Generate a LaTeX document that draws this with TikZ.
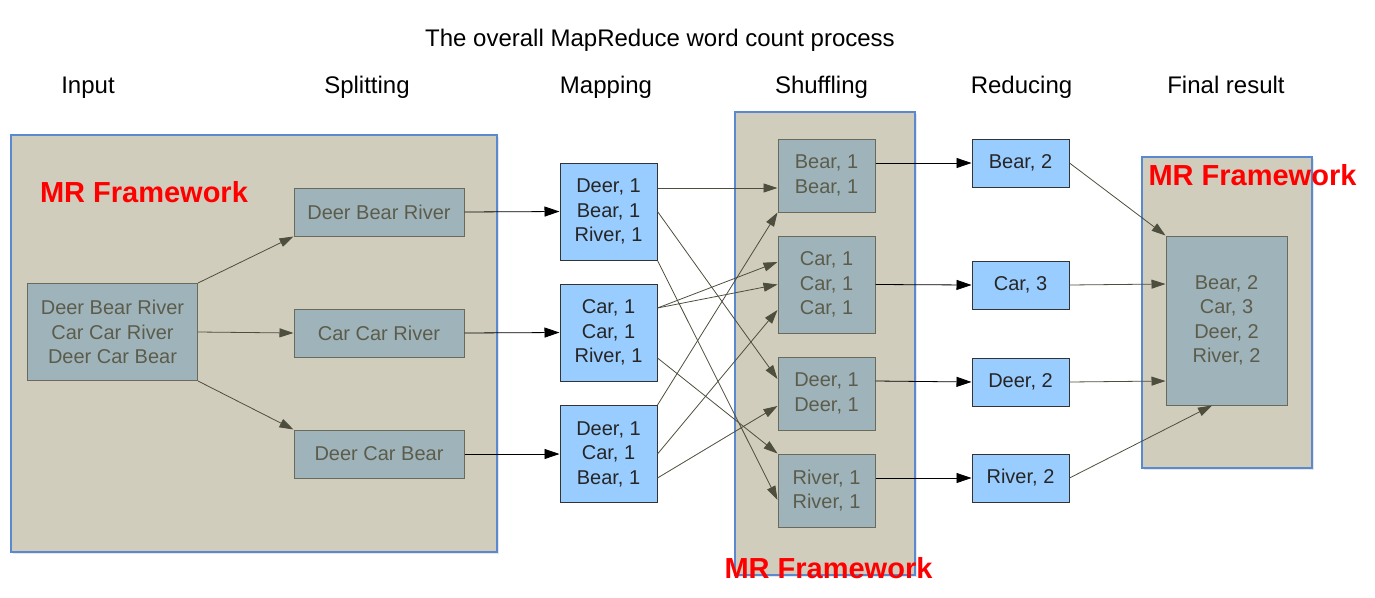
\documentclass[tikz,border=0pt]{standalone}
\usepackage{fontspec}
\setmainfont{Liberation Sans}
\usetikzlibrary{calc,positioning,arrows.meta,shadows}
\definecolor{framefill}{HTML}{D1CDBC}
\definecolor{frameline}{HTML}{5A89CF}
\definecolor{nodegray}{HTML}{9FB4BA}
\definecolor{nodeline}{HTML}{6A6A5A}
\definecolor{nodetext}{HTML}{5C5C4C}
\definecolor{nodeblue}{HTML}{99CCFF}
\definecolor{arrgray}{HTML}{4E4E3E}
\begin{document}
\begin{tikzpicture}[x=1pt,y=-1pt,
 frm/.style={draw=frameline,fill=framefill,line width=1.2pt,drop shadow={opacity=0.2,shadow xshift=1.5pt,shadow yshift=-2pt}},
 gbox/.style={draw=nodeline,fill=nodegray,text=nodetext,line width=1pt,inner sep=0pt,align=center,minimum width=97pt,font=\fontsize{20}{24.5}\selectfont},
 bbox/.style={draw=black!80,fill=nodeblue,text=black!85,line width=1pt,inner sep=0pt,align=center,minimum width=97pt,font=\fontsize{20}{24.5}\selectfont},
 garr/.style={draw=arrgray,line width=0.8pt,-{Triangle[length=14pt,width=9pt]}},
 barr/.style={draw=black,line width=0.8pt,-{Triangle[length=15pt,width=10pt]}},
 mrlabel/.style={text=red,font=\bfseries\fontsize{29}{29}\selectfont},
 head/.style={anchor=base,font=\fontsize{24}{24}\selectfont}]
\useasboundingbox (0,0) rectangle (1375,597);
% frames
\draw[frm] (11,135) rectangle (497,552);
\draw[frm] (735,112) rectangle (915,575);
\draw[frm] (1142,157) rectangle (1312,468);
% titles
\node[head] (title) at (660,46) {The overall MapReduce word count process};
\node[head] (hin) at (88,93) {Input};
\node[head] (hsp) at (367,93) {Splitting};
\node[head] (hmap) at (606,93) {Mapping};
\node[head] (hsh) at (821.5,93) {Shuffling};
\node[head] (hred) at (1021.5,93) {Reducing};
\node[head] (hfin) at (1226,93) {Final result};
% input and splitting
\node[gbox,minimum width=170pt,minimum height=97pt] (in) at (112.5,332) {Deer Bear River\\Car Car River\\Deer Car Bear};
\node[gbox,minimum width=170pt,minimum height=48pt] (s1) at (379,212) {Deer Bear River};
\node[gbox,minimum width=170pt,minimum height=48pt] (s2) at (379,333) {Car Car River};
\node[gbox,minimum width=170pt,minimum height=48pt] (s3) at (379,454) {Deer Car Bear};
% mapping
\node[bbox,minimum height=97pt] (m1) at (608.5,211.5) {Deer, 1\\Bear, 1\\River, 1};
\node[bbox,minimum height=97pt] (m2) at (608.5,332.5) {Car, 1\\Car, 1\\River, 1};
\node[bbox,minimum height=97pt] (m3) at (608.5,454) {Deer, 1\\Car, 1\\Bear, 1};
% shuffling
\node[gbox,minimum height=73pt] (h1) at (826.5,175.5) {Bear, 1\\Bear, 1};
\node[gbox,minimum height=97pt] (h2) at (826.5,284.5) {Car, 1\\Car, 1\\Car, 1};
\node[gbox,minimum height=73pt] (h3) at (826.5,393.5) {Deer, 1\\Deer, 1};
\node[gbox,minimum height=73pt] (h4) at (826.5,490.5) {River, 1\\River, 1};
% reducing
\node[bbox,minimum height=48pt] (r1) at (1020.5,163) {Bear, 2};
\node[bbox,minimum height=48pt] (r2) at (1020.5,285) {Car, 3};
\node[bbox,minimum height=48pt] (r3) at (1020.5,382) {Deer, 2};
\node[bbox,minimum height=48pt] (r4) at (1020.5,478) {River, 2};
% final result
\node[gbox,minimum width=121pt,minimum height=169pt] (fin) at (1226.5,320.5) {Bear, 2\\Car, 3\\Deer, 2\\River, 2};
% connectors
\draw[garr] (in.north east)--(s1.south west);
\draw[garr] (in.east)--(s2.west);
\draw[garr] (in.south east)--(s3.north west);
\draw[barr] (s1.east)--(m1.west);
\draw[barr] (s2.east)--(m2.west);
\draw[barr] (s3.east)--(m3.west);
\draw[garr] ([yshift=23.5pt]m1.east)--([yshift=-12.5pt]h1.west);
\draw[garr] (m1.east)--([yshift=14.5pt]h3.west);
\draw[garr] (m1.south east)--([yshift=-9.5pt]h4.west);
\draw[garr] ([yshift=24.5pt]m2.east)--([yshift=22.5pt]h2.west);
\draw[garr] ([yshift=24.5pt]m2.east)--(h2.west);
\draw[garr] ([yshift=-25.5pt]m2.east)--(h4.north west);
\draw[garr] (m3.north east)--(h1.south west);
\draw[garr] (m3.east)--([yshift=-25.5pt]h2.west);
\draw[garr] ([yshift=-24pt]m3.east)--([yshift=-12.5pt]h3.west);
\draw[barr] ([yshift=12.5pt]h1.east)--(r1.west);
\draw[barr] (h2.east)--(r2.west);
\draw[barr] ([yshift=12.5pt]h3.east)--(r3.west);
\draw[barr] ([yshift=12.5pt]h4.east)--(r4.west);
\draw[garr] (r1.east)--(fin.north west);
\draw[garr] (r2.east)--([yshift=36.5pt]fin.west);
\draw[garr] (r3.east)--([yshift=-60.5pt]fin.west);
\draw[garr] (r4.east)--([xshift=-14.5pt]fin.south);
% framework labels
\node[mrlabel] (mr1) at (144,192) {MR Framework};
\node[mrlabel] (mr2) at (828.5,568) {MR Framework};
\node[mrlabel] (mr3) at (1252.5,175) {MR Framework};
\end{tikzpicture}
\end{document}
